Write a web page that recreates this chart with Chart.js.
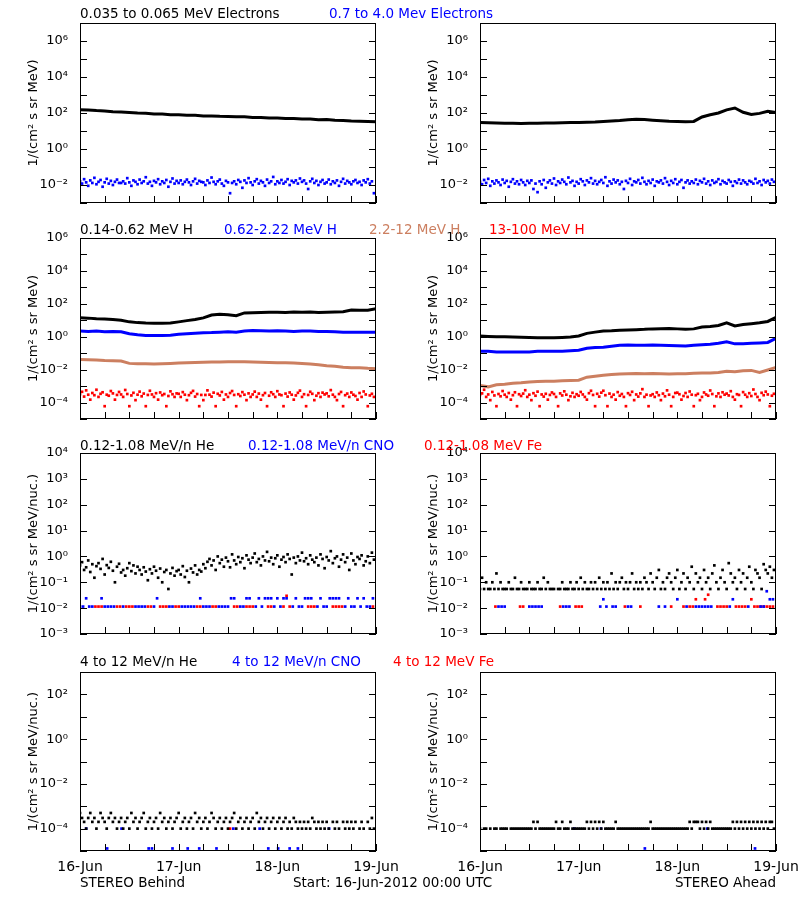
<!DOCTYPE html>
<html>
<head>
<meta charset="utf-8">
<script src="https://cdn.jsdelivr.net/npm/chart.js@4.4.1/dist/chart.umd.min.js"></script>
<style>
  body { margin: 0; background: #fff; }
  #page { position: relative; width: 800px; height: 900px; overflow: hidden; font-family: "DejaVu Sans", sans-serif; font-size: 13.5px; }
  #page canvas { position: absolute; }
  .lbl { position: absolute; white-space: nowrap; line-height: 14px; }
</style>
</head>
<body>
<div id="page"></div>
<script>
// time axis: hours since 16-Jun-2012 00:00 UTC
const dayLabels = ['16-Jun', '17-Jun', '18-Jun', '19-Jun'];
const hourTicks = [0, 6, 12, 18, 24, 30, 36, 42, 48, 54, 60, 66, 72];

// y decades per row
const decElec = [1e-3, 1e-2, 1e-1, 1, 1e1, 1e2, 1e3, 1e4, 1e5, 1e6, 1e7];
const decProt = [1e-5, 1e-4, 1e-3, 1e-2, 1e-1, 1, 1e1, 1e2, 1e3, 1e4, 1e5, 1e6];
const decIonLo = [1e-3, 1e-2, 1e-1, 1, 1e1, 1e2, 1e3, 1e4];
const decIonHi = [1e-5, 1e-4, 1e-3, 1e-2, 1e-1, 1, 1e1, 1e2, 1e3];

// row 1: electrons (2 h steps for the smooth channel, 0.5 h for the noisy one)
const elecLoBehind = [154, 146, 136, 130, 118, 112, 106, 99, 96, 89, 87, 81, 80, 75, 74, 69, 68, 65, 64, 61, 61, 57, 57, 53, 52, 50, 49, 46, 46, 42, 43, 39, 38, 36, 35, 34, 33];
const elecLoAhead = [30, 29, 28, 27, 27, 26, 27, 27, 28, 28, 29, 30, 30, 31, 32, 34, 36, 38, 42, 45, 44, 40, 37, 35, 34, 33, 34, 60, 80, 100, 150, 190, 110, 82, 95, 125, 108];
const elecHiBehind = [
  .016, .012, .021, .014, .009, .018, .013, .025, .011, .015, .019, .008,
  .014, .022, .012, .017, .010, .015, .020, .013, .013, .016, .012, .024,
  .014, .009, .018, .015, .011, .020, .013, .016, .027, .012, .015, .009,
  .017, .014, .021, .011, .016, .013, .019, .008, .015, .023, .012, .017,
  .013, .018, .011, .015, .020, .014, .010, .016, .022, .012, .017, .015,
  .014, .010, .018, .013, .026, .015, .011, .016, .020, .012, .009, .017,
  .014, .0035, .013, .016, .011, .019, .015, .007, .018, .013, .024, .014,
  .010, .016, .021, .012, .017, .014, .009, .020, .013, .016, .028, .011,
  .016, .013, .019, .012, .015, .021, .010, .017, .014, .018, .012, .023,
  .015, .018, .012, .006, .016, .022, .013, .017, .010, .015, .019, .012,
  .014, .020, .011, .016, .013, .018, .009, .015, .022, .012, .017, .014,
  .011, .016, .019, .013, .015, .010, .018, .014, .021, .012, .016, .0035];
const elecHiAhead = [
  .015, .011, .019, .013, .022, .009, .016, .012, .018, .014, .010, .020,
  .013, .017, .008, .015, .021, .012, .016, .011, .019, .014, .010, .017,
  .013, .018, .006, .012, .004, .016, .011, .019, .007, .014, .018, .012,
  .023, .010, .016, .013, .020, .015, .011, .026, .014, .017, .009, .015,
  .012, .021, .016, .010, .018, .014, .024, .012, .017, .011, .015, .019,
  .013, .027, .009, .016, .012, .020, .014, .018, .011, .015, .006, .017,
  .013, .022, .010, .016, .014, .019, .012, .025, .015, .011, .017, .013,
  .020, .009, .016, .014, .018, .012, .024, .015, .010, .017, .013, .021,
  .011, .015, .019, .007, .014, .018, .012, .016, .013, .020, .011, .017,
  .014, .022, .012, .016, .010, .018, .013, .015, .021, .011, .017, .014,
  .012, .019, .015, .009, .016, .013, .020, .012, .018, .014, .011, .017,
  .015, .012, .022, .013, .016, .010, .019, .014, .017, .012, .020, .015];

// row 2: protons
const prot1Behind = [14, 13.5, 12.5, 12, 11, 10, 8, 7.2, 6.8, 6.6, 6.7, 6.9, 8, 9.5, 11, 14, 21, 23, 22, 19, 28, 29, 30, 31, 31, 30, 32, 31, 32, 30, 31, 32, 33, 42, 40, 41, 50];
const prot2Behind = [2.2, 2.1, 2.2, 2.0, 2.1, 2.0, 1.5, 1.3, 1.2, 1.2, 1.2, 1.25, 1.4, 1.5, 1.6, 1.75, 1.8, 1.9, 2.0, 1.9, 2.2, 2.4, 2.3, 2.2, 2.3, 2.2, 2.1, 2.2, 2.2, 2.1, 2.1, 2.0, 1.9, 1.9, 1.9, 1.85, 1.9];
const prot3Behind = [.042, .040, .038, .036, .035, .033, .024, .023, .023, .022, .023, .024, .025, .026, .027, .028, .029, .029, .030, .030, .030, .029, .028, .027, .026, .026, .025, .024, .022, .020, .017, .016, .014, .013, .013, .012, .0115];
const prot1Ahead = [1.1, 1.05, 1.0, 1.0, 0.95, 0.92, 0.9, 0.88, 0.87, 0.87, 0.9, 0.95, 1.1, 1.6, 1.9, 2.2, 2.3, 2.5, 2.6, 2.7, 2.8, 3.0, 3.1, 3.2, 3.0, 2.8, 3.0, 3.9, 4.2, 4.8, 7.0, 4.5, 5.5, 6.2, 7.0, 8.5, 15];
const prot2Ahead = [.13, .13, .12, .12, .12, .12, .12, .13, .13, .13, .13, .14, .15, .2, .22, .23, .26, .3, .31, .3, .3, .31, .3, .29, .28, .27, .3, .33, .35, .4, .5, .37, .38, .4, .42, .45, .8];
const prot3Ahead = [.0011, .0009, .0012, .0013, .0015, .0016, .0018, .0019, .002, .002, .0021, .0022, .0023, .0035, .004, .0045, .005, .0055, .0057, .0058, .0057, .0058, .0056, .0055, .0056, .0057, .006, .0062, .0063, .0067, .008, .0075, .0085, .009, .0068, .0095, .0135];
const prot4Behind = [
  3.2e-4, 4.5e-4, 2.3e-4, 5.5e-4, 3e-4, 1.5e-4, 3.8e-4, 2.8e-4, 6e-4, 2.2e-4, 3.4e-4, 4.2e-4,
  6e-5, 3e-4, 2.6e-4, 5e-4, 3.6e-4, 1.5e-4, 2.9e-4, 4.4e-4, 3.1e-4, 2.2e-4, 5.8e-4, 3.3e-4,
  6e-5, 2.7e-4, 3.9e-4, 1.4e-4, 3e-4, 4.6e-4, 2.4e-4, 3.5e-4, 6e-5, 2.9e-4, 5.2e-4, 3.1e-4,
  2.2e-4, 3.7e-4, 1.5e-4, 4.1e-4, 2.8e-4, 3.3e-4, 6e-5, 2.5e-4, 4.8e-4, 3.2e-4, 2.2e-4, 3.6e-4,
  3.4e-4, 2.2e-4, 4.3e-4, 3e-4, 1.4e-4, 2.8e-4, 3.9e-4, 5.1e-4, 2.3e-4, 3.3e-4, 6e-5, 2.9e-4,
  1.4e-4, 2.9e-4, 5.5e-4, 3e-4, 2.3e-4, 4e-4, 6e-5, 3.4e-4, 2.7e-4, 4.4e-4, 1.5e-4, 3.1e-4,
  2.2e-4, 3.8e-4, 5e-4, 2.9e-4, 6e-5, 3.2e-4, 2.5e-4, 4.3e-4, 3e-4, 1.4e-4, 3.6e-4, 2.2e-4,
  3.1e-4, 4.6e-4, 2.2e-4, 3.5e-4, 1.5e-4, 2.8e-4, 3.8e-4, 6e-5, 2.6e-4, 4.2e-4, 3.2e-4, 2.2e-4,
  4.9e-4, 3.1e-4, 2.8e-4, 6e-5, 3.5e-4, 2.3e-4, 4.1e-4, 3e-4, 1.5e-4, 2.7e-4, 3.9e-4, 5.3e-4,
  2.2e-4, 3.2e-4, 6e-5, 2.9e-4, 4.5e-4, 3.4e-4, 1.4e-4, 2.6e-4, 3.7e-4, 2.2e-4, 4e-4, 3.1e-4,
  3.6e-4, 2.4e-4, 5.7e-4, 3e-4, 2.2e-4, 1.4e-4, 3.3e-4, 4.4e-4, 6e-5, 2.8e-4, 3.5e-4, 2.2e-4,
  4.1e-4, 3e-4, 2.5e-4, 1.5e-4, 3.8e-4, 2.2e-4, 4.7e-4, 3.1e-4, 6e-5, 2.7e-4, 3.4e-4, 2.2e-4];
const prot4Ahead = [
  2.9e-4, 3.6e-4, 6e-4, 2.2e-4, 3.1e-4, 1.4e-4, 4.4e-4, 2.7e-4, 6e-5, 3.3e-4, 2.4e-4, 5e-4,
  3e-4, 2.2e-4, 3.8e-4, 1.5e-4, 2.8e-4, 4.2e-4, 6e-5, 3.2e-4, 2.5e-4, 3.5e-4, 5.6e-4, 2.2e-4,
  3e-4, 1.4e-4, 3.7e-4, 2.6e-4, 4.6e-4, 6e-5, 3.1e-4, 2.3e-4, 3.4e-4, 1.5e-4, 2.9e-4, 4.1e-4,
  3.3e-4, 2.2e-4, 6e-5, 3.6e-4, 2.7e-4, 4.8e-4, 3e-4, 1.4e-4, 2.4e-4, 3.9e-4, 2.2e-4, 3.2e-4,
  2.6e-4, 4.4e-4, 3.1e-4, 2.2e-4, 1.5e-4, 3.7e-4, 5.2e-4, 2.9e-4, 6e-5, 3.4e-4, 2.3e-4, 4e-4,
  5.2e-4, 2.8e-4, 6e-5, 3.5e-4, 2.2e-4, 3e-4, 1.5e-4, 4.3e-4, 2.6e-4, 3.3e-4, 2.2e-4, 6e-5,
  3.7e-4, 2.9e-4, 4.5e-4, 1.4e-4, 3.1e-4, 2.3e-4, 3.6e-4, 6.5e-4, 2.2e-4, 3e-4, 6e-5, 2.7e-4,
  3.2e-4, 2.2e-4, 4.1e-4, 2.8e-4, 1.4e-4, 3.5e-4, 2.4e-4, 5.5e-4, 3e-4, 6e-5, 2.2e-4, 3.8e-4,
  4e-4, 3.2e-4, 1.5e-4, 2.5e-4, 3.8e-4, 2.2e-4, 4.7e-4, 3e-4, 6e-5, 2.8e-4, 3.4e-4, 1.4e-4,
  2.2e-4, 4.1e-4, 3.1e-4, 2.6e-4, 5.4e-4, 3.3e-4, 6e-5, 2.4e-4, 3.6e-4, 2.2e-4, 4.2e-4, 3e-4,
  3.5e-4, 2.7e-4, 4.9e-4, 2.2e-4, 1.5e-4, 3.2e-4, 2.9e-4, 6e-5, 4.3e-4, 3e-4, 2.2e-4, 3.7e-4,
  2.5e-4, 6.2e-4, 3.3e-4, 2.2e-4, 1.4e-4, 3.9e-4, 2.8e-4, 4.6e-4, 3.1e-4, 6e-5, 2.6e-4, 3.4e-4];

// row 3: 0.12-1.08 MeV/n ions (He at 0.5 h steps, CNO / Fe at 0.75 h steps)
const heLoBehind = [
  .45, .6, .3, .38, .7, .25, .5, .15, .42, .55, .33, .8,
  .2, .46, .36, .62, .28, .1, .4, .52, .24, .3, .18, .35,
  .55, .27, .45, .22, .4, .3, .2, .38, .26, .12, .32, .22,
  .4, .28, .15, .34, .1, .25, .3, .055, .22, .36, .18, .27,
  .3, .2, .42, .16, .28, .1, .34, .24, .45, .2, .3, .26,
  .5, .35, .62, .8, .45, .7, .3, 1.0, .55, .75, .4, .9,
  .65, .38, 1.2, .7, .5, .95, .6, .85, .35, 1.1, .75, .55,
  .9, 1.3, .6, .8, .45, 1.0, .7, 1.5, .65, .9, .5, .85,
  1.1, .4, .75, .95, .6, 1.2, .8, .2, .9, .55, 1.0, .7,
  1.4, .65, .85, .5, 1.1, .75, .6, .9, .45, 1.2, .8, .35,
  .95, .7, 1.6, .55, .85, 1.0, .4, .75, 1.2, .6, .9, .3,
  1.3, .7, .5, .95, .8, 1.1, .45, .65, 1.0, .55, 1.4, .75];
const heLoAhead = [
  .055, .15, .055, .1, .055, .055, .1, .055, .22, .055, .1, .055,
  .055, .055, .1, .055, .055, .15, .055, .055, .1, .055, .055, .055,
  .1, .055, .055, .055, .1, .055, .055, .15, .055, .1, .055, .055,
  .055, null, .055, .055, .1, .055, .055, .055, .1, .055, .055, .1,
  .055, .15, .055, .1, .055, .055, .1, .055, .1, .055, .15, .055,
  .1, .055, .1, .055, .22, .055, .1, .055, .1, .15, .055, .1,
  .055, .1, .22, .055, .1, .055, .1, .055, .15, .1, .055, .22,
  .1, .055, .15, .3, .055, .1, .055, .15, .22, .1, .055, .15,
  .3, .055, .1, .22, .055, .15, .1, .4, .055, .22, .1, .15,
  .055, .3, .1, .15, .055, .22, .45, .1, .055, .15, .3, .1,
  .055, .55, .22, .1, .15, .055, .3, .1, .22, .055, .15, .4,
  .1, .055, .3, .22, .15, .055, .5, .3, .22, .4, .15, .3];
const cnoLoBehind = [
  .0115, .0115, .024, .0115, .0115, null, null, .024, .0115, .0115, .0115, .0115,
  null, null, .0115, null, null, null, .0115, .0115, .0115, .0115, null, null,
  .0115, .024, null, null, null, .0115, .0115, null, null, .0115, .0115, .0115,
  .0115, .0115, null, .024, .0115, .0115, .0115, null, null, .0115, .0115, .0115,
  .0115, .024, .024, null, .0115, .0115, .024, .024, null, .0115, .024, .0115,
  .024, .024, .024, .0115, .024, .0115, .024, .024, null, .0115, .024, .0115,
  .0115, .024, .024, .024, null, .0115, .024, .0115, .0115, .024, .024, .024,
  .024, null, .0115, .024, .0115, .0115, .024, .0115, .024, .0115, .0115, .024];
const feLoBehind = [
  null, null, null, null, null, .0115, .0115, .0115, null, null, null, null,
  .0115, .0115, null, .0115, .0115, .0115, null, null, null, null, .0115, .0115,
  null, null, .0115, .0115, .0115, null, null, .0115, .0115, null, null, null,
  null, null, .0115, .0115, null, null, null, .0115, .0115, null, null, null,
  null, null, .0115, .0115, null, null, .0115, .0115, .0115, null, null, null,
  null, .0115, .0115, null, null, null, .0115, .03, .0115, null, null, null,
  null, null, .0115, .0115, .0115, null, null, null, null, null, .0115, .0115,
  .0115, .0115, null, null, null, null, null, null, null, null, null, .0115];
const cnoLoAhead = [
  null, null, null, null, null, null, .0115, .0115, .0115, null, null, null,
  null, null, null, null, .0115, .0115, .0115, .0115, .0115, null, null, null,
  null, null, null, .0115, .0115, .0115, null, null, null, null, null, null,
  null, null, null, .0115, .022, .0115, null, .0115, .0115, null, null, null,
  .0115, .0115, null, null, null, null, null, null, null, null, .0115, null,
  .0115, null, null, null, .022, null, null, .0115, null, null, .0115, .0115,
  .0115, .0115, .0115, .0115, null, null, null, null, null, .0115, .022, null,
  null, null, null, .0115, null, null, null, .0115, .0115, .045, .022, .022];
const feLoAhead = [
  null, null, null, null, null, .0115, null, null, null, null, null, null,
  null, .0115, .0115, null, null, null, null, null, null, null, null, null,
  null, null, .0115, null, null, null, null, .0115, .0115, .0115, null, null,
  null, null, null, null, null, null, null, null, null, null, null, .0115,
  null, null, null, null, .0115, null, null, null, null, null, null, null,
  null, null, .0115, null, null, null, .0115, null, .0115, .0115, .022, null,
  null, .022, .033, null, null, .0115, .0115, .0115, .0115, null, null, .0115,
  .0115, .0115, .0115, null, .022, .0115, .0115, .0115, .0115, .0115, .0115, .0115];

// row 4: 4-12 MeV/n ions (He at 0.5 h steps, CNO / Fe as sparse time/value lists)
const heHiBehind = [
  5e-4, 3e-4, 2e-4, 1e-4, 3e-4, 5e-4, 2e-4, 3e-4, 1e-4, 2e-4, 5e-4, 3e-4,
  2e-4, 1e-4, 3e-4, 5e-4, 2e-4, 3e-4, 1e-4, 2e-4, 3e-4, 1e-4, 2e-4, 3e-4,
  1e-4, 5e-4, 2e-4, 3e-4, 1e-4, 2e-4, 3e-4, 5e-4, 1e-4, 2e-4, 3e-4, 1e-4,
  2e-4, 3e-4, 1e-4, 5e-4, 2e-4, 3e-4, 1e-4, 2e-4, 3e-4, 1e-4, 2e-4, 3e-4,
  5e-4, 1e-4, 2e-4, 3e-4, 1e-4, 2e-4, 3e-4, 1e-4, 5e-4, 2e-4, 3e-4, 1e-4,
  2e-4, 3e-4, 1e-4, 2e-4, 5e-4, 3e-4, 1e-4, 2e-4, 3e-4, 1e-4, 2e-4, 3e-4,
  1e-4, 2e-4, 3e-4, 5e-4, 1e-4, 2e-4, 3e-4, 1e-4, 2e-4, 3e-4, 1e-4, 2e-4,
  3e-4, 1e-4, 5e-4, 2e-4, 3e-4, 1e-4, 2e-4, 3e-4, 1e-4, 2e-4, 3e-4, 1e-4,
  2e-4, 3e-4, 1e-4, 2e-4, 3e-4, 1e-4, 2e-4, 1e-4, 3e-4, 2e-4, 1e-4, 2e-4,
  1e-4, 2e-4, 1e-4, 2e-4, 1e-4, 3e-4, 2e-4, 1e-4, 2e-4, 1e-4, 2e-4, 1e-4,
  2e-4, 1e-4, null, 2e-4, 1e-4, 2e-4, 1e-4, null, 2e-4, 1e-4, 2e-4, 1e-4,
  2e-4, 1e-4, 2e-4, null, 1e-4, 2e-4, 1e-4, null, 2e-4, 1e-4, 3e-4, 1e-4];
const heHiAhead = [
  1e-4, null, 1e-4, 1e-4, null, 1e-4, null, 1e-4, 1e-4, null, 1e-4, 1e-4,
  1e-4, 1e-4, null, 1e-4, 1e-4, 1e-4, 1e-4, 1e-4, 1e-4, 1e-4, 1e-4, 1e-4,
  1e-4, 1e-4, 2e-4, 1e-4, 2e-4, 1e-4, 1e-4, 1e-4, 1e-4, 1e-4, 1e-4, 1e-4,
  1e-4, 2e-4, 1e-4, 1e-4, 2e-4, 1e-4, 1e-4, 1e-4, 2e-4, 1e-4, 1e-4, 1e-4,
  1e-4, 1e-4, 1e-4, 1e-4, 2e-4, 1e-4, 2e-4, 1e-4, 2e-4, 1e-4, 2e-4, 1e-4,
  2e-4, 1e-4, 1e-4, 1e-4, 1e-4, 1e-4, 2e-4, 1e-4, 1e-4, 1e-4, 1e-4, 1e-4,
  1e-4, 1e-4, 1e-4, 1e-4, 1e-4, 1e-4, 1e-4, 1e-4, 1e-4, 1e-4, 1e-4, 2e-4,
  1e-4, 1e-4, 1e-4, 1e-4, 1e-4, 1e-4, 1e-4, 1e-4, 1e-4, 1e-4, 1e-4, 1e-4,
  1e-4, 1e-4, 1e-4, 1e-4, 1e-4, 1e-4, 2e-4, 1e-4, 2e-4, 2e-4, 2e-4, 1e-4,
  2e-4, 1e-4, 2e-4, 1e-4, 2e-4, 1e-4, 1e-4, 1e-4, 1e-4, 1e-4, 1e-4, 1e-4,
  1e-4, 1e-4, 1e-4, 2e-4, 1e-4, 2e-4, 1e-4, 2e-4, 1e-4, 2e-4, 1e-4, 2e-4,
  1e-4, 2e-4, 1e-4, 2e-4, 1e-4, 2e-4, 1e-4, 2e-4, 1e-4, 2e-4, 2e-4, 1e-4];
const cnoHiBehindT = [1.5, 6.6, 10.1, 16.7, 17.5, 22.5, 26.2, 29, 33.2, 37.3, 43.7, 45.8, 48.2, 51, 53, 60.6];
const cnoHiBehindV = [1e-4, 1.3e-5, 1e-4, 1.3e-5, 1.3e-5, 1.3e-5, 1.3e-5, 1.3e-5, 1.3e-5, 1e-4, 1e-4, 1.3e-5, 1.3e-5, 1.3e-5, 1.3e-5, 1e-4];
const feHiBehindT = [36.5];
const feHiBehindV = [1e-4];
const cnoHiAheadT = [22.9, 29.4, 40.1, 55.3, 66.9];
const cnoHiAheadV = [1e-4, 1e-4, 1.3e-5, 1e-4, 1.3e-5];
const feHiAheadT = [];
const feHiAheadV = [];

// channel names
const titles = [
  [['0.035 to 0.065 MeV Electrons', 'k'], ['0.7 to 4.0 Mev Electrons', 'b']],
  [['0.14-0.62 MeV H', 'k'], ['0.62-2.22 MeV H', 'b'], ['2.2-12 MeV H', 't'], ['13-100 MeV H', 'r']],
  [['0.12-1.08 MeV/n He', 'k'], ['0.12-1.08 MeV/n CNO', 'b'], ['0.12-1.08 MeV Fe', 'r']],
  [['4 to 12 MeV/n He', 'k'], ['4 to 12 MeV/n CNO', 'b'], ['4 to 12 MeV Fe', 'r']]
];

const COL = {k: '#000000', b: '#0000ff', t: '#cc7f60', r: '#ff0000'};
const FONT = {family: 'DejaVu Sans', size: 13};
const PAD = 24; // room above/below the plot box inside each canvas
const page = document.getElementById('page');

const SUP = {'-': '⁻', '0': '⁰', '1': '¹', '2': '²', '3': '³', '4': '⁴', '5': '⁵', '6': '⁶', '7': '⁷', '8': '⁸', '9': '⁹'};
const expOf = v => Math.round(Math.log10(v));
const decLabel = v => '10' + String(expOf(v)).split('').map(c => SUP[c]).join('');

// helpers turning arrays into points
const even = vals => vals.map((v, i) => ({x: i * 72 / (vals.length - 1), y: v}));
const spread = vals => vals.map((v, i) => ({x: i * 72 / vals.length, y: v})).filter(p => p.y !== null);
const pairs = (ts, vs) => ts.map((t, i) => ({x: t, y: vs[i]}));
const line = (vals, c) => ({data: even(vals), showLine: true, borderColor: COL[c], borderWidth: 3, pointRadius: 0});
const dots = (pts, c) => ({data: pts, backgroundColor: COL[c], borderWidth: 0, pointStyle: 'rect', pointRadius: 1.9});

// layout of the four rows
const ROWS = [
  {top: 23, bottom: 203, dec: decElec, unit: '1/(cm² s sr MeV)', every: 2, titleY: 13, xH: PAD},
  {top: 238, bottom: 419, dec: decProt, unit: '1/(cm² s sr MeV)', every: 2, titleY: 229, xH: PAD},
  {top: 453, bottom: 634, dec: decIonLo, unit: '1/(cm² s sr MeV/nuc.)', every: 1, titleY: 445, xH: PAD},
  {top: 672, bottom: 851, dec: decIonHi, unit: '1/(cm² s sr MeV/nuc.)', every: 2, titleY: 661, xH: 40}
];

// frame with inward ticks, like the IDL plot
const frameTicks = {
  id: 'frameTicks',
  afterDraw(chart) {
    const {ctx, chartArea: a, scales: {x, y}} = chart;
    ctx.save();
    ctx.strokeStyle = '#000';
    ctx.lineWidth = 1;
    ctx.strokeRect(a.left + 0.5, a.top + 0.5, a.right - a.left - 1, a.bottom - a.top - 1);
    ctx.beginPath();
    y.ticks.forEach(t => {
      const py = Math.round(y.getPixelForValue(t.value)) + 0.5;
      ctx.moveTo(a.left, py); ctx.lineTo(a.left + 7, py);
      ctx.moveTo(a.right, py); ctx.lineTo(a.right - 7, py);
    });
    hourTicks.forEach(h => {
      const px = Math.round(x.getPixelForValue(h)) + 0.5;
      ctx.moveTo(px, a.bottom); ctx.lineTo(px, a.bottom - 7);
    });
    ctx.stroke();
    ctx.restore();
  }
};

function panel(col, row, datasets) {
  const r = ROWS[row];
  const cv = document.createElement('canvas');
  cv.width = 430;
  cv.height = (r.bottom - r.top) + PAD + r.xH;
  cv.style.left = (col * 400) + 'px';
  cv.style.top = (r.top - PAD) + 'px';
  page.appendChild(cv);
  new Chart(cv, {
    type: 'scatter',
    data: {datasets},
    options: {
      animation: false,
      responsive: false,
      events: [],
      layout: {padding: {top: PAD, right: 54, bottom: 0, left: 0}},
      plugins: {legend: {display: false}, tooltip: {enabled: false}},
      scales: {
        x: {
          type: 'linear', min: 0, max: 72,
          grid: {display: false, drawTicks: false},
          border: {display: false},
          afterFit: s => { s.height = r.xH; },
          afterBuildTicks: s => { s.ticks = hourTicks.map(v => ({value: v})); },
          ticks: {
            display: row === 3, autoSkip: false, maxRotation: 0,
            padding: 8, color: '#000', font: {family: 'DejaVu Sans', size: 14},
            callback: v => (v % 24 === 0 ? dayLabels[v / 24] : '')
          }
        },
        y: {
          type: 'logarithmic', min: r.dec[0], max: r.dec[r.dec.length - 1],
          grid: {display: false, drawTicks: false},
          border: {display: false},
          afterFit: s => { s.width = 80; },
          afterBuildTicks: s => { s.ticks = r.dec.map(v => ({value: v})); },
          ticks: {
            autoSkip: false, padding: 12, color: '#000', font: FONT,
            callback: v => (expOf(v) % r.every === 0 ? decLabel(v) : '')
          },
          title: {display: true, text: r.unit, color: '#000', font: FONT, padding: {top: 26, bottom: 0}}
        }
      }
    },
    plugins: [frameTicks]
  });
}

// row 1
panel(0, 0, [line(elecLoBehind, 'k'), dots(spread(elecHiBehind), 'b')]);
panel(1, 0, [line(elecLoAhead, 'k'), dots(spread(elecHiAhead), 'b')]);
// row 2
panel(0, 1, [line(prot1Behind, 'k'), line(prot2Behind, 'b'), line(prot3Behind, 't'), dots(spread(prot4Behind), 'r')]);
panel(1, 1, [line(prot1Ahead, 'k'), line(prot2Ahead, 'b'), line(prot3Ahead, 't'), dots(spread(prot4Ahead), 'r')]);
// row 3
panel(0, 2, [dots(spread(heLoBehind), 'k'), dots(spread(cnoLoBehind), 'b'), dots(spread(feLoBehind), 'r')]);
panel(1, 2, [dots(spread(heLoAhead), 'k'), dots(spread(cnoLoAhead), 'b'), dots(spread(feLoAhead), 'r')]);
// row 4
panel(0, 3, [dots(spread(heHiBehind), 'k'), dots(pairs(cnoHiBehindT, cnoHiBehindV), 'b'), dots(pairs(feHiBehindT, feHiBehindV), 'r')]);
panel(1, 3, [dots(spread(heHiAhead), 'k'), dots(pairs(cnoHiAheadT, cnoHiAheadV), 'b'), dots(pairs(feHiAheadT, feHiAheadV), 'r')]);

// channel titles above each row
const titleX = [[80, 329], [80, 224, 369, 489], [80, 248, 424], [80, 232, 393]];
titles.forEach((items, ri) => {
  items.forEach(([text, c], k) => {
    const d = document.createElement('div');
    d.className = 'lbl';
    d.textContent = text;
    d.style.color = COL[c];
    d.style.left = titleX[ri][k] + 'px';
    d.style.top = (ROWS[ri].titleY - 7) + 'px';
    page.appendChild(d);
  });
});

// footer
const footer = [['STEREO Behind', 80, 'left'], ['Start: 16-Jun-2012 00:00 UTC', 293, 'left'], ['STEREO Ahead', 776, 'right']];
footer.forEach(([text, x, side]) => {
  const d = document.createElement('div');
  d.className = 'lbl';
  d.textContent = text;
  d.style.top = '875px';
  if (side === 'left') d.style.left = x + 'px';
  else d.style.right = (800 - x) + 'px';
  page.appendChild(d);
});
</script>
</body>
</html>
